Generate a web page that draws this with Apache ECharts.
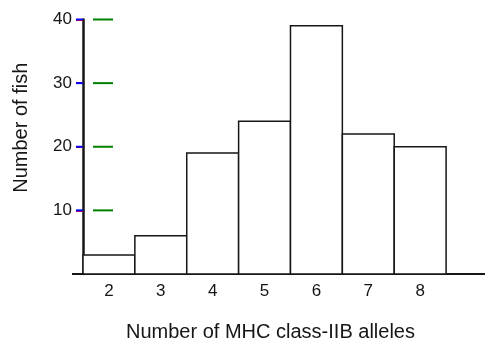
<!DOCTYPE html>
<html>
<head>
<meta charset="utf-8">
<script src="https://cdn.jsdelivr.net/npm/echarts@6/dist/echarts.min.js"></script>
<style>
  html, body { margin: 0; padding: 0; background: #fff; }
  #chart { width: 485px; height: 340px; }
</style>
</head>
<body>
<div id="chart"></div>
<script>
// number of MHC class-IIB alleles and how many fish carry that many
const alleles = [2, 3, 4, 5, 6, 7, 8];
const fishCounts = [3, 6, 19, 24, 39, 22, 20];
const yTicks = [10, 20, 30, 40];
const yTickStep = 10;
const yMax = 40;
const xStart = 1.5;

const ink = '#161616';
const font = "'Liberation Sans', Arial, sans-serif";

const chart = echarts.init(document.getElementById('chart'));

chart.setOption({
  backgroundColor: '#fff',
  animation: false,
  grid: { left: 83, right: 0, top: 19.5, bottom: 66, outerBoundsMode: 'none' },
  xAxis: {
    type: 'value',
    min: xStart,
    max: 9.25,
    splitLine: { show: false },
    axisLine: { lineStyle: { color: ink, width: 2 } },
    axisTick: { show: false },
    axisLabel: {
      customValues: alleles,
      color: ink,
      fontSize: 17,
      fontFamily: font,
      margin: 9
    },
    name: 'Number of MHC class-IIB alleles',
    nameLocation: 'middle',
    nameGap: 48,
    nameTextStyle: { color: ink, fontSize: 20, fontFamily: font, padding: [0, 27, 0, 0] }
  },
  yAxis: {
    type: 'value',
    min: 0,
    max: yMax,
    interval: yTickStep,
    splitLine: { show: false },
    axisLine: { show: true, lineStyle: { color: ink, width: 2.5 } },
    axisTick: { show: true, length: 7, lineStyle: { color: 'red', width: 2 } },
    axisLabel: {
      showMinLabel: false,
      color: ink,
      fontSize: 17,
      fontFamily: font,
      margin: 11
    },
    name: 'Number of fish',
    nameLocation: 'middle',
    nameGap: 52,
    nameTextStyle: { color: ink, fontSize: 20, fontFamily: font, padding: [0, 0, 0, 38] }
  },
  series: [{
    type: 'custom',
    data: alleles.map((a, i) => [a, fishCounts[i]]),
    renderItem: function (params, api) {
      const topLeft = api.coord([api.value(0) - 0.5, api.value(1)]);
      const bottomRight = api.coord([api.value(0) + 0.5, 0]);
      return {
        type: 'rect',
        shape: {
          x: topLeft[0],
          y: topLeft[1],
          width: bottomRight[0] - topLeft[0],
          height: bottomRight[1] - topLeft[1]
        },
        style: { fill: '#fff', stroke: ink, lineWidth: 1.5 }
      };
    }
  }, {
    type: 'custom',
    clip: false,
    silent: true,
    z: 50,
    data: yTicks.map(v => [xStart, v]),
    renderItem: function (params, api) {
      const p = api.coord([api.value(0), api.value(1)]);
      return {
        type: 'group',
        children: [{
          type: 'line',
          shape: { x1: p[0] - 7, y1: p[1], x2: p[0], y2: p[1] },
          style: { stroke: 'blue', lineWidth: 2 }
        }, {
          type: 'line',
          shape: { x1: p[0] + 10, y1: p[1], x2: p[0] + 30, y2: p[1] },
          style: { stroke: 'green', lineWidth: 2 }
        }]
      };
    }
  }, {
    // the baseline pokes a little past the y axis on the left
    type: 'custom',
    clip: false,
    silent: true,
    data: [[xStart, 0]],
    renderItem: function (params, api) {
      const p = api.coord([api.value(0), api.value(1)]);
      return {
        type: 'line',
        shape: { x1: p[0] - 11, y1: p[1], x2: p[0], y2: p[1] },
        style: { stroke: ink, lineWidth: 2 }
      };
    }
  }]
});
</script>
</body>
</html>
